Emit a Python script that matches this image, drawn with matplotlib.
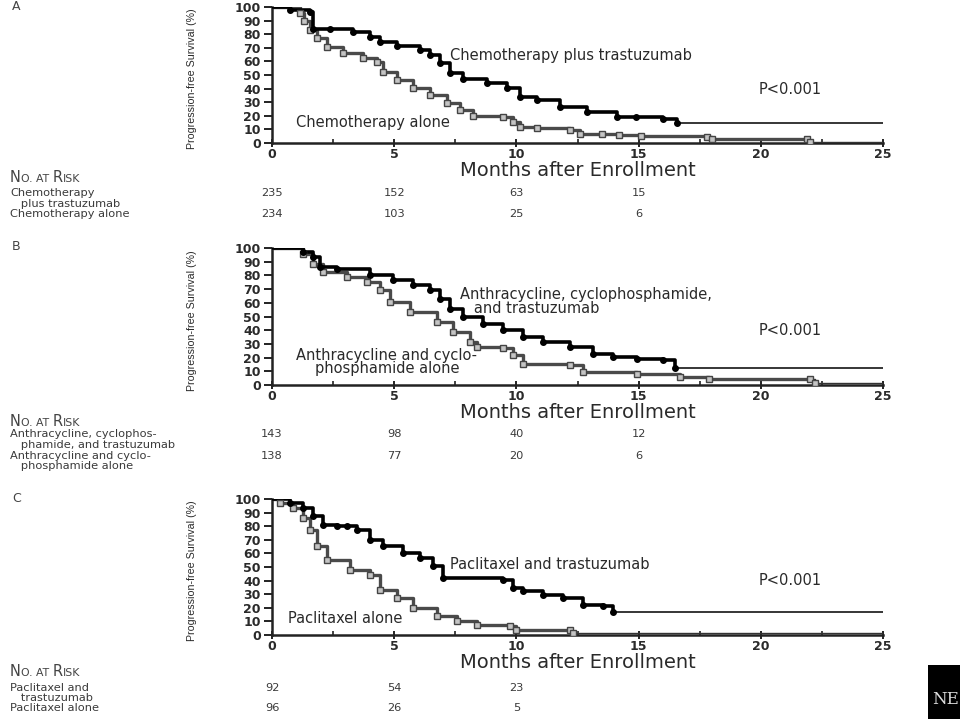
import matplotlib
matplotlib.use("Agg")
import matplotlib.pyplot as plt
from matplotlib.offsetbox import TextArea, HPacker, AnnotationBbox
from matplotlib.ticker import MultipleLocator
from matplotlib.patches import Rectangle
import matplotlib.transforms as mtransforms

plt.rcParams['font.family'] = ['DejaVu Sans']

# ---------------- data ----------------
months_ticks = [0, 5, 10, 15, 20, 25]
surv_ticks = [0, 10, 20, 30, 40, 50, 60, 70, 80, 90, 100]

# Panel A
a_trast_t = [0, 0.74, 1.55, 1.69, 2.37, 3.3, 4.0, 4.42, 5.1, 6.06, 6.46, 6.87, 7.28, 7.8, 8.78, 9.6,
             10.15, 10.83, 11.8, 12.9, 14.1, 14.9, 16.0, 16.56, 25]
a_trast_s = [100, 97.8, 96.6, 83.6, 83.6, 81.9, 78.2, 74.5, 71.3, 68.4, 64.7, 58.6, 51.2, 46.8, 43.9, 40.2,
             34, 31.6, 26.7, 23, 19.3, 18.9, 17.6, 14.5, 14.5]
a_alone_t = [0, 1.15, 1.3, 1.55, 1.83, 2.24, 2.92, 3.74, 4.28, 4.56, 5.1, 5.78, 6.46, 7.15, 7.69, 8.24,
             9.46, 9.87, 10.15, 10.83, 12.19, 12.6, 13.5, 14.2, 15.1, 17.8, 18.0, 21.9, 22.0, 25]
a_alone_s = [100, 95.3, 90, 83, 77, 70.8, 65.9, 62.2, 59.8, 52.4, 46.3, 40.2, 35.3, 29.2, 24.3, 19.9,
             19.3, 15.7, 12, 10.8, 9.6, 6.6, 6.6, 5.9, 5.1, 4.4, 2.9, 2.9, 0.7, 0.7]
# Panel B
b_trast_t = [0, 1.28, 1.69, 1.96, 2.65, 4.0, 4.96, 5.78, 6.46, 6.87, 7.28, 7.83, 8.65, 9.46, 10.28,
             11.1, 12.19, 13.15, 13.96, 14.92, 16.0, 16.5, 25]
b_trast_s = [100, 97, 93.4, 86, 84.9, 80, 76.4, 72.8, 69.1, 63, 55.7, 49.6, 44.8, 39.9, 35,
             31.4, 27.7, 22.8, 20.4, 19.2, 18, 12.4, 12.4]
b_alone_t = [0, 1.28, 1.69, 2.1, 3.06, 3.87, 4.42, 4.83, 5.65, 6.74, 7.42, 8.1, 8.38, 9.46, 9.87, 10.28,
             12.19, 12.74, 14.92, 16.7, 17.9, 22.0, 22.2, 25]
b_alone_s = [100, 95.8, 88.5, 82.5, 78.8, 75.2, 69.1, 60.6, 53.3, 46, 38.7, 31.4, 27.7, 27, 21.7, 15.5,
             14.4, 9.5, 8.2, 5.8, 4.4, 4.4, 1.5, 1.0]
# Panel C
c_trast_t = [0, 0.74, 1.28, 1.69, 2.1, 2.65, 3.06, 3.47, 4.0, 4.56, 5.37, 6.06, 6.6, 7.0, 9.46, 9.87,
             10.28, 11.1, 11.92, 12.74, 13.56, 13.96, 25]
c_trast_s = [100, 97, 93.4, 87.3, 81.1, 79.9, 79.9, 77.5, 70.1, 65.2, 60.3, 56.6, 50.5, 41.9, 40.2, 34.6,
             32.1, 29.6, 27.2, 22.3, 21.1, 16.9, 16.9]
c_alone_t = [0, 0.33, 0.87, 1.28, 1.55, 1.83, 2.24, 3.19, 4.0, 4.42, 5.1, 5.78, 6.74, 7.56, 8.38, 9.74,
             10.0, 12.19, 12.33, 25]
c_alone_s = [100, 97, 93.4, 86, 77.5, 65.2, 55.4, 48, 44.3, 33.3, 27.2, 19.9, 13.7, 10.1, 7.1, 6.4,
             3.9, 3.4, 1.5, 1.5]

# Numbers at risk
risk_times = [0, 5, 10, 15]
a_risk_trast = [235, 152, 63, 15]
a_risk_alone = [234, 103, 25, 6]
b_risk_trast = [143, 98, 40, 12]
b_risk_alone = [138, 77, 20, 6]
c_risk_trast = [92, 54, 23]
c_risk_alone = [96, 26, 5]

a_labels = ["Chemotherapy plus trastuzumab", "Chemotherapy alone"]
b_labels = ["Anthracycline, cyclophosphamide,\n   and trastuzumab", "Anthracycline and cyclo-\nphosphamide alone"]
c_labels = ["Paclitaxel and trastuzumab", "Paclitaxel alone"]
a_rows = [["Chemotherapy", "   plus trastuzumab"], ["Chemotherapy alone"]]
b_rows = [["Anthracycline, cyclophos-", "   phamide, and trastuzumab"], ["Anthracycline and cyclo-", "   phosphamide alone"]]
c_rows = [["Paclitaxel and", "   trastuzumab"], ["Paclitaxel alone"]]

# ---------------- figure ----------------
W, H = 960, 719
fig = plt.figure(figsize=(9.6, 7.19), dpi=100)
fig.patch.set_facecolor('white')

TXT = '#2a2a2a'
RISK = '#3a3a3a'
FS_IN = 10.5
FS_RISK = 8.2


def fx(px):
    return px / W


def fy(py):
    return 1 - py / H


def make_axes(top, bottom):
    ax = fig.add_axes([fx(272), fy(bottom), fx(883) - fx(272), fy(top) - fy(bottom)])
    ax.set_xlim(0, 25)
    ax.set_ylim(0, 100)
    for s in ['top', 'right']:
        ax.spines[s].set_visible(False)
    for s in ['left', 'bottom']:
        ax.spines[s].set_linewidth(1.8)
        ax.spines[s].set_color('#222222')
    ax.set_xticks(months_ticks)
    ax.xaxis.set_minor_locator(MultipleLocator(2.5))
    ax.set_yticks(surv_ticks)
    ax.tick_params(axis='y', direction='out', length=6, width=1.4, color='#222222',
                   labelsize=9, labelcolor=TXT, pad=2)
    ax.tick_params(axis='x', which='major', direction='inout', length=6, width=1.4,
                   color='#222222', labelsize=9, labelcolor=TXT, pad=0.5)
    ax.tick_params(axis='x', which='minor', direction='in', length=3, width=1.2, color='#222222')
    for lab in ax.get_xticklabels() + ax.get_yticklabels():
        lab.set_fontweight('bold')
    ax.set_facecolor('none')
    ax.set_ylabel('Progression-free Survival (%)', family=['Liberation Sans'],
                  fontsize=7.7, color=TXT)
    ax.yaxis.set_label_coords(-0.122, 0.47)
    ax.set_xlabel('Months after Enrollment', fontsize=14, color=TXT, labelpad=0)
    return ax


def draw_curve(ax, t, s, trast):
    if trast:
        ax.step(t, s, where='post', color='black', lw=1.1, zorder=3)
        ax.step(t[:-1], s[:-1], where='post', color='black', lw=2.6, zorder=3)
        ax.plot(t[1:-1], s[1:-1], 'o', ms=4.0, color='black', zorder=4)
    else:
        ax.step(t, s, where='post', color='#333333', lw=1.0, zorder=3)
        ax.step(t[:-2], s[:-2], where='post', color='#4a4a4a', lw=2.4, zorder=3)
        ax.plot(t[1:-1], s[1:-1], 's', ms=3.8, mfc='#c4c4c4', mec='#444444', mew=1.0, zorder=4)


def smallcaps_title(px, py):
    parts = [("N", 10.5), ("O. AT ", 7.8), ("R", 10.5), ("ISK", 7.8)]
    children = [TextArea(s, textprops=dict(fontsize=f, color='#444444')) for s, f in parts]
    box = HPacker(children=children, align='baseline', pad=0, sep=0)
    ab = AnnotationBbox(box, (fx(px), fy(py)), xycoords='figure fraction',
                        box_alignment=(0, 0.5), frameon=False)
    fig.add_artist(ab)


def risk_table(ax, y_title, ys, rows, r1, r2):
    smallcaps_title(10, y_title)
    k = 0
    for row in rows:
        for line in row:
            fig.text(fx(10), fy(ys[k]), line, fontsize=FS_RISK, color=RISK, va='center')
            k += 1
    trans = mtransforms.blended_transform_factory(ax.transData, fig.transFigure)
    y1 = ys[0]
    y2 = ys[len(rows[0])]
    for t, n in zip(risk_times, r1):
        fig.text(t, fy(y1), str(n), transform=trans, fontsize=FS_RISK, color=RISK,
                 ha='center', va='center')
    for t, n in zip(risk_times, r2):
        fig.text(t, fy(y2), str(n), transform=trans, fontsize=FS_RISK, color=RISK,
                 ha='center', va='center')


# Panel A
axA = make_axes(7, 143)
draw_curve(axA, a_alone_t, a_alone_s, False)
draw_curve(axA, a_trast_t, a_trast_s, True)
axA.text(7.28, 64.7, a_labels[0], fontsize=FS_IN, color=TXT, va='center', ha='left')
axA.text(1.0, 15.4, a_labels[1], fontsize=FS_IN, color=TXT, va='center', ha='left')
axA.text(19.9, 39.7, 'P<0.001', fontsize=FS_IN, color=TXT, va='center', ha='left')
fig.text(fx(12), fy(7), 'A', fontsize=9, color='#444444', va='center')
risk_table(axA, 178, [193, 204, 214], a_rows, a_risk_trast, a_risk_alone)

# Panel B
axB = make_axes(248, 385)
draw_curve(axB, b_alone_t, b_alone_s, False)
draw_curve(axB, b_trast_t, b_trast_s, True)
axB.text(7.7, 61, b_labels[0], fontsize=FS_IN, color=TXT, va='center', ha='left', linespacing=0.9)
axB.text(4.7, 16.8, b_labels[1], fontsize=FS_IN, color=TXT, va='center', ha='center', linespacing=0.9)
axB.text(19.9, 40, 'P<0.001', fontsize=FS_IN, color=TXT, va='center', ha='left')
fig.text(fx(12), fy(247), 'B', fontsize=9, color='#444444', va='center')
risk_table(axB, 421, [434, 445, 456, 466], b_rows, b_risk_trast, b_risk_alone)

# Panel C
axC = make_axes(499, 635)
draw_curve(axC, c_alone_t, c_alone_s, False)
draw_curve(axC, c_trast_t, c_trast_s, True)
axC.text(7.3, 52, c_labels[0], fontsize=FS_IN, color=TXT, va='center', ha='left')
axC.text(0.65, 11.8, c_labels[1], fontsize=FS_IN, color=TXT, va='center', ha='left')
axC.text(19.9, 40.4, 'P<0.001', fontsize=FS_IN, color=TXT, va='center', ha='left')
fig.text(fx(12), fy(499), 'C', fontsize=9, color='#444444', va='center')
risk_table(axC, 672, [688, 698, 708], c_rows, c_risk_trast, c_risk_alone)

# black box bottom-right
fig.add_artist(Rectangle((fx(928), fy(719)), fx(960) - fx(928), fy(665) - fy(719),
                         transform=fig.transFigure, facecolor='black', edgecolor='none'))
fig.text(fx(946), fy(700), 'NE', fontsize=12, color='#dddddd', family='DejaVu Serif',
         ha='center', va='center')

fig.savefig('out.png', dpi=100)
